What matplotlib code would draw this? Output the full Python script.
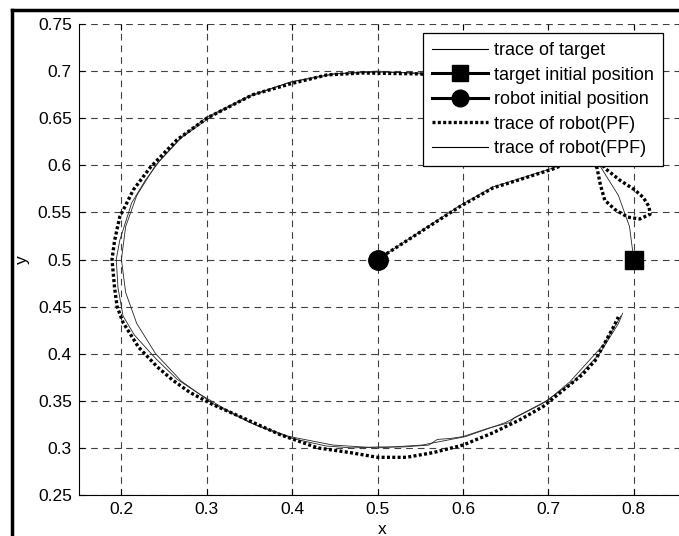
import numpy as np
from matplotlib import pyplot as plt
from matplotlib.lines import Line2D

plt.rcParams['font.family'] = ['Liberation Sans', 'DejaVu Sans']

# target trace
target_x = [0.800, 0.795, 0.782, 0.760, 0.730, 0.693, 0.650, 0.603, 0.552, 0.500,
            0.448, 0.397, 0.350, 0.307, 0.270, 0.240, 0.218, 0.205, 0.200, 0.205,
            0.218, 0.240, 0.270, 0.307, 0.350, 0.397, 0.448, 0.500, 0.552, 0.603,
            0.650, 0.693, 0.730, 0.760, 0.782, 0.787]
target_y = [0.500, 0.535, 0.568, 0.600, 0.629, 0.653, 0.673, 0.688, 0.697, 0.700,
            0.697, 0.688, 0.673, 0.653, 0.629, 0.600, 0.568, 0.535, 0.500, 0.465,
            0.432, 0.400, 0.371, 0.347, 0.327, 0.312, 0.303, 0.300, 0.303, 0.312,
            0.327, 0.347, 0.371, 0.400, 0.432, 0.443]

# robot trace, PF
pf_x = [0.500, 0.596, 0.635, 0.667, 0.705, 0.730, 0.750, 0.757, 0.761, 0.766,
        0.778, 0.793, 0.807, 0.819, 0.818, 0.811, 0.801, 0.784, 0.766, 0.750,
        0.720, 0.680, 0.620, 0.550, 0.483, 0.441, 0.400, 0.354, 0.300, 0.265,
        0.234, 0.214, 0.198, 0.192, 0.189, 0.192, 0.195, 0.202, 0.220, 0.242,
        0.260, 0.280, 0.307, 0.347, 0.386, 0.430, 0.468, 0.500, 0.534, 0.565,
        0.600, 0.635, 0.667, 0.694, 0.717, 0.740, 0.755, 0.776, 0.782]
pf_y = [0.500, 0.556, 0.576, 0.585, 0.596, 0.605, 0.610, 0.597, 0.579, 0.563,
        0.553, 0.545, 0.543, 0.548, 0.556, 0.566, 0.574, 0.584, 0.597, 0.620,
        0.645, 0.670, 0.690, 0.697, 0.698, 0.696, 0.687, 0.675, 0.650, 0.627,
        0.598, 0.574, 0.545, 0.520, 0.500, 0.470, 0.450, 0.433, 0.407, 0.386,
        0.372, 0.359, 0.346, 0.330, 0.314, 0.300, 0.295, 0.290, 0.290, 0.295,
        0.303, 0.316, 0.330, 0.344, 0.361, 0.378, 0.393, 0.428, 0.439]

# robot trace, FPF
fpf_x = [0.500, 0.596, 0.635, 0.667, 0.705, 0.740, 0.760, 0.740, 0.700, 0.650,
         0.600, 0.550, 0.500, 0.450, 0.400, 0.350, 0.300, 0.270, 0.245, 0.228,
         0.212, 0.205, 0.198, 0.194, 0.196, 0.202, 0.215, 0.240, 0.265, 0.290,
         0.320, 0.360, 0.400, 0.440, 0.470, 0.500, 0.530, 0.560, 0.570, 0.585,
         0.600, 0.630, 0.655, 0.660, 0.675, 0.700, 0.725, 0.745, 0.765, 0.785]
fpf_y = [0.500, 0.557, 0.577, 0.586, 0.597, 0.610, 0.630, 0.650, 0.670, 0.685,
         0.694, 0.698, 0.699, 0.697, 0.689, 0.674, 0.651, 0.630, 0.605, 0.584,
         0.560, 0.540, 0.520, 0.500, 0.470, 0.440, 0.420, 0.395, 0.373, 0.358,
         0.342, 0.323, 0.310, 0.302, 0.300, 0.301, 0.301, 0.303, 0.309, 0.310,
         0.312, 0.321, 0.327, 0.332, 0.339, 0.351, 0.370, 0.390, 0.410, 0.440]

target_start = (0.8, 0.5)
robot_start = (0.5, 0.5)

xticks = [0.2, 0.3, 0.4, 0.5, 0.6, 0.7, 0.8]
yticks = [0.25, 0.3, 0.35, 0.4, 0.45, 0.5, 0.55, 0.6, 0.65, 0.7, 0.75]

fig = plt.figure(figsize=(6.79, 5.36), dpi=100)
ax = fig.add_axes([78.7/679, 41/536, 606.3/679, 471/536])

ax.plot(target_x, target_y, color='0.15', lw=0.6, label='trace of target')
ax.plot(fpf_x, fpf_y, color='0.15', lw=0.6)
ax.plot(pf_x, pf_y, color='k', lw=2.4, linestyle=(0, (0.9, 0.7)))
ax.plot(target_start[0], target_start[1], 'ks-', lw=2, ms=13)
ax.plot(robot_start[0], robot_start[1], 'ko-', lw=2, ms=14)

ax.set_xlim(0.15, 0.86)
ax.set_ylim(0.25, 0.75)
ax.set_xticks(xticks)
ax.set_xticklabels([str(v) for v in xticks])
ax.set_yticks(yticks)
ax.set_yticklabels([str(v) for v in yticks])
ax.tick_params(direction='in', top=True, right=True, length=4, width=0.8,
               labelsize=12.5, pad=5)
ax.spines['top'].set_visible(False)
ax.spines['right'].set_visible(False)
ax.grid(True, color='0.25', linestyle=(0, (6, 4.5)), linewidth=0.8)
ax.set_xlabel('x', fontsize=12.5, labelpad=4)
ax.set_ylabel('y', fontsize=12.5, labelpad=6)

handles = [
    Line2D([], [], color='k', lw=0.8),
    Line2D([], [], color='k', lw=2.2, marker='s', ms=11),
    Line2D([], [], color='k', lw=2.2, marker='o', ms=12),
    Line2D([], [], color='k', lw=2.4, linestyle=(0, (0.9, 0.7))),
    Line2D([], [], color='k', lw=0.8),
]
labels = ['trace of target', 'target initial position', 'robot initial position',
          'trace of robot(PF)', 'trace of robot(FPF)']
leg = ax.legend(handles, labels, loc='upper right', bbox_to_anchor=(663/679, 1 - 33/536),
                bbox_transform=fig.transFigure, borderaxespad=0, fontsize=13,
                fancybox=False, framealpha=1, edgecolor='k', handlelength=3.1,
                handletextpad=0.35, borderpad=0.5, labelspacing=0.42)
leg.get_frame().set_linewidth(0.9)

# outer frame of the figure
fig.add_artist(Line2D([12/679, 1.0], [1 - 10/536, 1 - 10/536], color='k', lw=2.5,
                      transform=fig.transFigure))
fig.add_artist(Line2D([12/679, 12/679], [0.0, 1 - 10/536], color='k', lw=2.5,
                      transform=fig.transFigure))

plt.savefig('out.png', dpi=100)
